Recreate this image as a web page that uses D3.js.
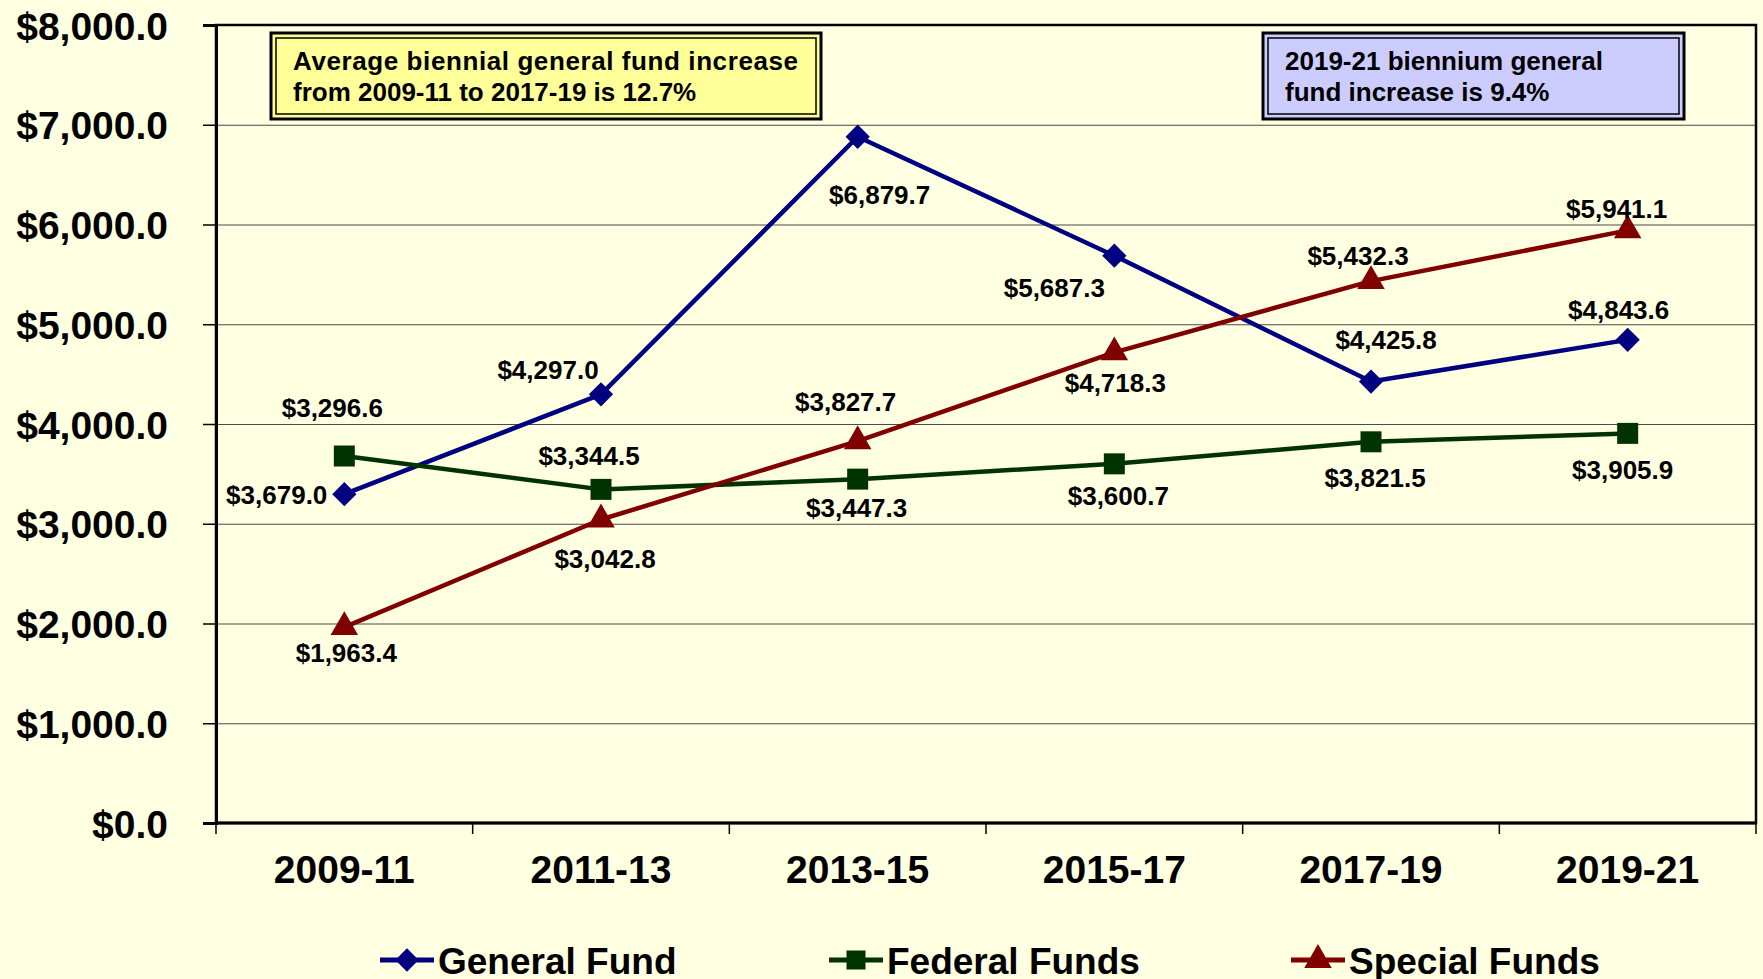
<!DOCTYPE html>
<html>
<head>
<meta charset="utf-8">
<script src="https://cdn.jsdelivr.net/npm/d3@7"></script>
<style>
  html, body { margin: 0; padding: 0; background: #FFFFE1; }
  svg { display: block; font-family: "Liberation Sans", Arial, sans-serif; font-weight: bold; }
  .tick-label { font-size: 39px; fill: #000; }
  .data-label { font-size: 26px; fill: #000; }
  .note { font-size: 26px; fill: #000; }
  .legend-label { font-size: 37px; fill: #000; }
</style>
</head>
<body>
<svg id="chart"></svg>
<script>
// data
const periods = ["2009-11", "2011-13", "2013-15", "2015-17", "2017-19", "2019-21"];
const generalFund = [3296.6, 4297.0, 6879.7, 5687.3, 4425.8, 4843.6];
const federalFunds = [3679.0, 3344.5, 3447.3, 3600.7, 3821.5, 3905.9];
const specialFunds = [1963.4, 3042.8, 3827.7, 4718.3, 5432.3, 5941.1];

// the labels as printed (first two are swapped in the original)
const generalLabels = ["$3,679.0", "$4,297.0", "$6,879.7", "$5,687.3", "$4,425.8", "$4,843.6"];
const federalLabels = ["$3,296.6", "$3,344.5", "$3,447.3", "$3,600.7", "$3,821.5", "$3,905.9"];
const specialLabels = ["$1,963.4", "$3,042.8", "$3,827.7", "$4,718.3", "$5,432.3", "$5,941.1"];

const yTicks = [0, 1000, 2000, 3000, 4000, 5000, 6000, 7000, 8000];

const noteLeft = ["Average biennial general fund increase", "from 2009-11 to 2017-19 is 12.7%"];
const noteRight = ["2019-21 biennium general", "fund increase is 9.4%"];

const width = 1763;
const height = 979;

const margin = { top: 25, left: 216, right: 7, bottom: 156 };
const plotWidth = width - margin.left - margin.right;
const plotHeight = height - margin.top - margin.bottom;

const svg = d3.select("#chart").attr("width", width).attr("height", height);

svg.append("rect").attr("width", width).attr("height", height).attr("fill", "#FFFFE1");

const xScale = d3.scaleBand().domain(periods).range([0, plotWidth]);
const yScale = d3.scaleLinear().domain([0, 8000]).range([plotHeight, 0]);

const plot = svg.append("g").attr("transform", translate(margin.left, margin.top));

// series setup; label offsets (px) are placement only, tuned to the reference
const series = [
  { name: "General Fund", values: generalFund, labels: generalLabels, color: "#000080", shape: "diamond",
    offsets: [[-17, 0, "end"], [-53, -25], [22, 58], [-60, 32], [15, -42], [-9, -30]] },
  { name: "Federal Funds", values: federalFunds, labels: federalLabels, color: "#003300", shape: "square",
    offsets: [[-12, -48], [-12, -34], [-1, 29], [4, 32], [4, 36], [-5, 36]] },
  { name: "Special Funds", values: specialFunds, labels: specialLabels, color: "#800000", shape: "triangle",
    offsets: [[2, 25], [4, 39], [-12, -40], [1, 30], [-13, -25], [-11, -22]] }
];

drawAxis();
drawNotes();
series.forEach(drawSeries);
series.forEach(drawLabels);
drawLegend();

function drawAxis() {
  // gridlines
  let yGrid = d3.axisLeft(yScale).tickValues(yTicks.filter(d => d > 0 && d < 8000))
    .tickSize(-plotWidth).tickFormat("");
  plot.append("g").attr("class", "ygrid").call(yGrid)
    .call(g => g.select("path.domain").remove())
    .selectAll("line").attr("stroke", "#4a4a4a").attr("stroke-width", 1.2);

  // frame
  plot.append("rect")
    .attr("width", plotWidth).attr("height", plotHeight)
    .attr("fill", "none").attr("stroke", "#000").attr("stroke-width", 2.5);

  let yAxis = d3.axisLeft(yScale).tickValues(yTicks).tickSize(13).tickPadding(35)
    .tickFormat(d => "$" + d3.format(",.1f")(d));
  let yg = plot.append("g").call(yAxis);
  yg.select("path.domain").attr("stroke", "#000").attr("stroke-width", 3);
  yg.selectAll("line").attr("stroke", "#000").attr("stroke-width", 1.5);
  yg.selectAll("text").attr("class", "tick-label").attr("dy", "0.36em").attr("font-family", null).attr("font-size", null);

  // x axis: ticks sit between the categories
  let bounds = d3.range(periods.length + 1).map(i => i * xScale.step());
  let xg = plot.append("g").attr("transform", translate(0, plotHeight));
  xg.append("line").attr("x1", 0).attr("x2", plotWidth).attr("stroke", "#000").attr("stroke-width", 3);
  xg.selectAll("line.tk").data(bounds).enter().append("line")
    .attr("class", "tk")
    .attr("x1", d => d).attr("x2", d => d).attr("y1", 0).attr("y2", 11)
    .attr("stroke", "#000").attr("stroke-width", 1.5);
  xg.selectAll("text").data(periods).enter().append("text")
    .attr("class", "tick-label")
    .attr("x", d => xScale(d) + xScale.bandwidth() / 2)
    .attr("y", 60)
    .attr("text-anchor", "middle")
    .text(d => d);
}

function drawNotes() {
  drawNote(noteLeft, 271, 33, 550, 86, "#FFFF99", true);
  drawNote(noteRight, 1263, 33, 421, 86, "#CCCCFF", false);
}

function drawNote(lines, x, y, w, h, fill, justify) {
  let g = svg.append("g").attr("transform", translate(x, y));
  g.append("rect").attr("width", w).attr("height", h)
    .attr("fill", fill).attr("stroke", "#000").attr("stroke-width", 3);
  g.append("rect").attr("x", 5).attr("y", 5).attr("width", w - 10).attr("height", h - 10)
    .attr("fill", fill).attr("stroke", "#000").attr("stroke-width", 1.5);
  lines.forEach((line, i) => {
    let t = g.append("text").attr("class", "note")
      .attr("x", 22).attr("y", 37 + i * 31).text(line);
    if (justify && i == 0) {
      t.attr("textLength", 505).attr("lengthAdjust", "spacing");
    }
  });
}

function markerPath(shape, size) {
  if (shape == "diamond") return d3.symbol(d3.symbolDiamond2, size * size * 0.6)();
  if (shape == "square") return d3.symbol(d3.symbolSquare, size * size)();
  return d3.symbol(d3.symbolTriangle, size * size * 0.45)();
}

function drawSeries(s) {
  let line = d3.line()
    .x((d, i) => xScale(periods[i]) + xScale.bandwidth() / 2)
    .y(d => yScale(d));

  plot.append("path")
    .datum(s.values)
    .attr("d", line)
    .attr("fill", "none")
    .attr("stroke", s.color)
    .attr("stroke-width", 4.5)
    .attr("stroke-linejoin", "round");

  plot.append("g").selectAll("path")
    .data(s.values)
    .enter()
    .append("path")
    .attr("transform", (d, i) => translate(xScale(periods[i]) + xScale.bandwidth() / 2, yScale(d)))
    .attr("d", markerPath(s.shape, s.shape == "diamond" ? 25 : (s.shape == "square" ? 21 : 27)))
    .attr("fill", s.color);
}

function drawLabels(s) {
  plot.append("g").selectAll("text")
    .data(s.values)
    .enter()
    .append("text")
    .attr("class", "data-label")
    .attr("x", (d, i) => xScale(periods[i]) + xScale.bandwidth() / 2 + s.offsets[i][0])
    .attr("y", (d, i) => yScale(d) + s.offsets[i][1])
    .attr("dy", "0.36em")
    .attr("text-anchor", (d, i) => s.offsets[i][2] || "middle")
    .text((d, i) => s.labels[i]);
}

function drawLegend() {
  let starts = [380, 829, 1291];
  series.forEach((s, i) => {
    let g = svg.append("g").attr("transform", translate(starts[i], 960));
    g.append("line").attr("x1", 0).attr("x2", 54)
      .attr("stroke", s.color).attr("stroke-width", 5);
    g.append("path")
      .attr("transform", translate(27, 0))
      .attr("d", markerPath(s.shape, s.shape == "diamond" ? 24 : (s.shape == "square" ? 19 : 27)))
      .attr("fill", s.color);
    g.append("text").attr("class", "legend-label")
      .attr("x", 58).attr("y", 14)
      .text(s.name);
  });
}

function translate(x, y) {
  return "translate(" + String(x) + "," + String(y) + ")";
}
</script>
</body>
</html>
